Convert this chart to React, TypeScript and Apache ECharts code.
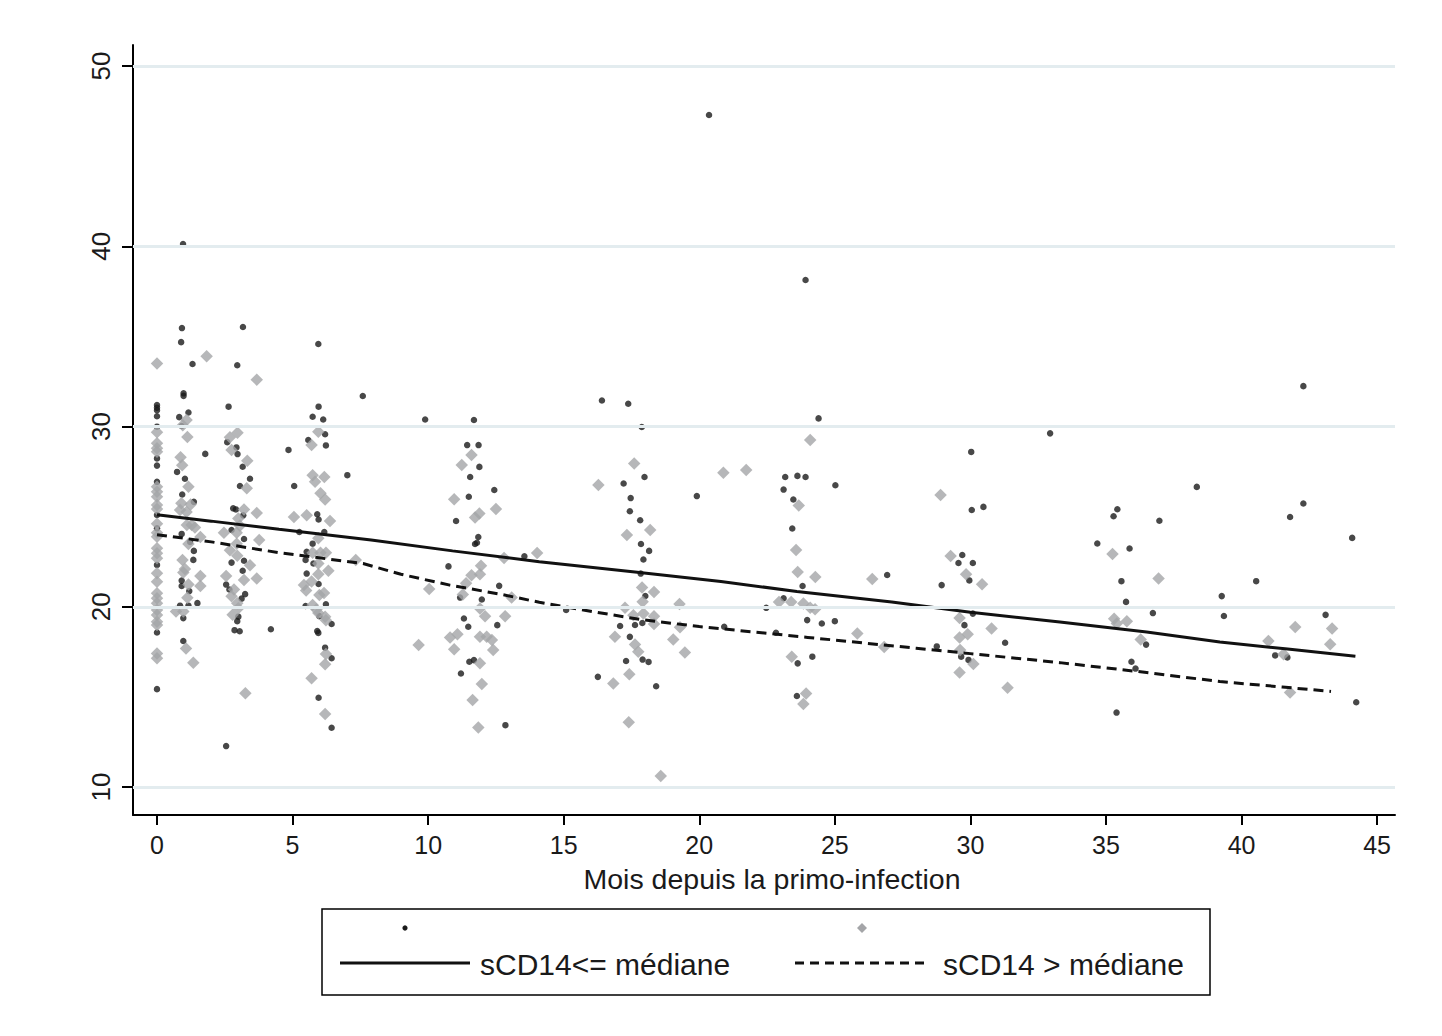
import React, { useEffect, useRef } from "react";
import * as echarts from "echarts";

const xTicks = [0, 5, 10, 15, 20, 25, 30, 35, 40, 45];
const yTicks = [10, 20, 30, 40, 50];
const xTitle = "Mois depuis la primo-infection";
const legendLabels = ["sCD14<= médiane", "sCD14 > médiane"];

// sCD14 <= médiane (black dots): [mois, valeur]
const lowPoints: [number, number][] = [
  [0, 31.19], [0, 31.04], [0, 30.9], [0, 30.57], [0, 29.99], [0, 28.23], [0, 27.83], [0, 26.93], [0, 25.09], [0, 24.35], [0, 22.32], [0, 18.57], [0, 15.43],
  [0.96, 40.12], [0.92, 35.46], [0.89, 34.68], [1.31, 33.47], [0.98, 31.84], [0.98, 31.7], [1.16, 30.78], [0.82, 30.52], [0.91, 30.03], [1.78, 28.48], [0.74, 27.48], [1.03, 27.1], [0.93, 26.23], [1.36, 25.82], [0.91, 24.04], [1.22, 23.6], [1.36, 23.1], [1.34, 22.6], [0.91, 21.45], [0.91, 21.15], [1.19, 20.87], [1.49, 20.2], [0.85, 20.06], [1.16, 20.06], [0.97, 19.37], [0.97, 18.1],
  [3.17, 35.52], [2.96, 33.4], [2.64, 31.1], [2.59, 29.13], [2.93, 28.84], [2.97, 28.47], [3.16, 27.77], [3.43, 27.1], [3.06, 26.7], [2.81, 25.46], [2.91, 25.4], [3.18, 25.07], [2.75, 24.26], [3.21, 23.76], [2.75, 22.45], [3.21, 22.55], [3.16, 22.0], [2.55, 21.23], [2.67, 20.96], [3.25, 20.7], [3.12, 20.45], [3.0, 19.45], [2.96, 19.2], [2.86, 18.7], [3.05, 18.64], [4.2, 18.75], [2.55, 12.27], [4.85, 28.7], [5.06, 26.7],
  [5.95, 34.58], [7.59, 31.69], [5.96, 31.1], [5.74, 30.54], [6.13, 30.39], [6.2, 29.57], [5.58, 29.25], [6.23, 28.95], [7.02, 27.3], [5.91, 25.13], [5.96, 24.84], [5.25, 24.15], [6.17, 24.15], [5.74, 23.5], [5.52, 23.05], [5.77, 22.4], [5.48, 22.6], [5.52, 21.84], [5.96, 21.26], [6.23, 20.14], [5.48, 20.04], [5.99, 19.48], [6.44, 19.04], [5.91, 18.65], [5.95, 18.55], [6.2, 17.73], [6.44, 17.14], [5.96, 14.95], [6.44, 13.29],
  [9.89, 30.39], [11.69, 30.36], [11.44, 28.97], [11.86, 28.97], [11.89, 27.76], [11.55, 27.2], [12.44, 26.48], [11.5, 26.1], [11.03, 24.76], [11.85, 23.87], [11.73, 23.48], [11.8, 23.55], [13.55, 22.8], [10.75, 22.24], [12.62, 21.16], [11.18, 20.51], [11.98, 20.4], [11.32, 19.35], [11.48, 18.89], [12.55, 18.98], [11.52, 16.95], [11.69, 17.04], [11.21, 16.3], [12.85, 13.43], [15.09, 19.82],
  [16.41, 31.44], [17.38, 31.26], [17.88, 29.97], [17.98, 27.2], [17.21, 26.84], [19.91, 26.14], [17.47, 26.03], [17.44, 25.3], [17.82, 24.8], [17.85, 23.48], [18.15, 23.1], [17.94, 22.62], [17.84, 21.84], [18.01, 20.6], [17.63, 18.99], [17.08, 18.93], [17.9, 19.1], [17.44, 18.33], [17.3, 16.99], [17.91, 17.07], [18.13, 16.94], [16.26, 16.11], [18.41, 15.59], [20.36, 47.28],
  [23.92, 38.13], [24.4, 30.45], [23.17, 27.2], [23.62, 27.26], [23.92, 27.2], [23.11, 26.5], [25.02, 26.74], [23.47, 25.95], [23.43, 24.34], [23.81, 21.15], [23.11, 20.47], [22.47, 19.94], [23.98, 19.26], [24.52, 19.07], [25.0, 19.2], [20.92, 18.89], [22.83, 18.56], [23.63, 16.86], [24.17, 17.23], [23.6, 15.05], [26.93, 21.76],
  [32.94, 29.62], [30.03, 28.59], [30.05, 25.37], [30.48, 25.54], [29.7, 22.87], [29.56, 22.43], [30.09, 22.43], [29.96, 21.46], [28.94, 21.2], [30.09, 19.62], [29.78, 18.98], [28.76, 17.8], [31.28, 18.0], [29.66, 17.23], [29.93, 17.05],
  [42.28, 32.24], [38.35, 26.65], [35.42, 25.41], [35.28, 25.02], [36.97, 24.77], [42.28, 25.73], [41.79, 24.98], [34.68, 23.51], [35.87, 23.23], [44.08, 23.82], [35.57, 21.42], [40.54, 21.42], [35.74, 20.27], [39.27, 20.59], [36.73, 19.65], [39.35, 19.49], [43.1, 19.55], [36.48, 17.9], [41.24, 17.3], [41.69, 17.19], [35.94, 16.95], [36.09, 16.57], [35.39, 14.13], [44.23, 14.7],
];

// sCD14 > médiane (grey diamonds): [mois, valeur]
const highPoints: [number, number][] = [
  [0, 33.5], [0, 29.68], [0, 29.07], [0, 28.79], [0, 28.6], [0, 26.66], [0, 26.38], [0, 26.1], [0, 25.64], [0, 25.42], [0, 24.6], [0, 24.1], [0, 23.89], [0, 23.24], [0, 22.97], [0, 22.69], [0, 21.86], [0, 21.39], [0, 20.75], [0, 20.47], [0, 20.19], [0, 19.82], [0, 19.54], [0, 19.17], [0, 18.99], [0, 17.4], [0, 17.15],
  [1.83, 33.9], [1.09, 30.36], [0.95, 30.07], [1.12, 29.42], [0.87, 28.3], [0.93, 27.85], [1.16, 26.66], [0.9, 25.74], [0.85, 25.37], [1.24, 25.67], [1.09, 25.26], [1.1, 24.54], [1.28, 24.54], [1.4, 24.4], [1.6, 23.87], [1.16, 23.48], [0.94, 22.6], [1.03, 22.1], [0.97, 21.9], [1.6, 21.7], [1.6, 21.15], [1.16, 21.23], [1.12, 20.5], [0.7, 19.74], [0.97, 19.74], [1.07, 17.68], [1.34, 16.9],
  [3.68, 32.6], [2.97, 29.65], [2.69, 29.4], [2.75, 28.7], [3.33, 28.1], [3.31, 26.57], [3.21, 25.4], [3.68, 25.2], [3.0, 24.9], [3.06, 24.5], [2.47, 24.1], [2.94, 24.1], [3.77, 23.7], [2.94, 23.5], [2.69, 23.14], [2.96, 22.83], [3.43, 22.3], [2.55, 21.7], [3.21, 21.48], [3.68, 21.57], [2.84, 20.96], [2.75, 20.58], [2.96, 20.2], [3.0, 19.92], [2.79, 19.55], [3.26, 15.2],
  [5.95, 29.71], [5.7, 28.97], [5.74, 27.3], [6.17, 27.2], [5.83, 26.94], [6.03, 26.3], [6.2, 25.95], [5.05, 24.98], [5.52, 25.08], [6.38, 24.76], [5.95, 23.8], [5.74, 23.0], [6.03, 23.0], [6.23, 23.0], [7.33, 22.6], [5.95, 22.4], [5.95, 21.8], [6.32, 22.0], [5.7, 21.4], [5.42, 21.2], [5.5, 20.9], [5.99, 20.65], [6.16, 20.77], [5.74, 20.1], [5.88, 19.85], [5.95, 19.66], [6.2, 19.44], [6.23, 19.25], [6.23, 17.38], [6.2, 16.81], [5.7, 16.03], [6.2, 14.05],
  [11.6, 28.42], [11.24, 27.86], [10.96, 25.97], [12.5, 25.43], [11.89, 25.17], [11.73, 24.95], [12.8, 22.71], [14.02, 22.98], [11.95, 22.27], [11.6, 21.75], [11.91, 21.8], [11.4, 21.3], [10.04, 20.98], [11.28, 20.68], [13.08, 20.51], [11.91, 19.91], [12.1, 19.48], [12.84, 19.48], [10.81, 18.29], [11.08, 18.48], [11.91, 18.33], [12.16, 18.33], [12.35, 18.15], [12.4, 17.6], [9.65, 17.88], [10.96, 17.64], [11.91, 16.86], [11.98, 15.71], [11.64, 14.83], [11.85, 13.3],
  [17.6, 27.95], [16.28, 26.75], [18.19, 24.26], [17.33, 23.98], [17.89, 21.07], [18.33, 20.82], [17.91, 20.28], [19.27, 20.15], [17.26, 19.94], [17.57, 19.53], [17.94, 19.62], [18.33, 19.48], [18.33, 19.04], [19.29, 18.86], [16.89, 18.33], [19.04, 18.18], [17.63, 17.9], [17.75, 17.5], [19.47, 17.46], [17.42, 16.26], [16.83, 15.74], [17.4, 13.59], [18.58, 10.61], [20.89, 27.43], [21.73, 27.58],
  [24.09, 29.25], [23.67, 25.62], [23.57, 23.15], [23.63, 21.93], [24.28, 21.65], [22.94, 20.27], [23.39, 20.27], [23.84, 20.18], [24.09, 19.94], [24.27, 19.86], [25.83, 18.52], [23.41, 17.23], [23.94, 15.19], [23.84, 14.6], [26.38, 21.54], [26.82, 17.77],
  [28.9, 26.2], [29.27, 22.82], [29.84, 21.8], [30.43, 21.25], [29.6, 19.38], [29.9, 18.48], [29.6, 18.3], [30.78, 18.79], [29.62, 17.6], [30.11, 16.82], [29.6, 16.35], [31.37, 15.5],
  [35.24, 22.93], [36.94, 21.57], [35.3, 19.33], [35.4, 19.07], [35.77, 19.2], [41.98, 18.88], [43.34, 18.8], [36.28, 18.18], [40.99, 18.1], [43.27, 17.92], [41.55, 17.37], [41.79, 15.24],
];

// fitted curves
const lowFitX = [0, 2, 4.5, 7.9, 10.9, 14.1, 17.8, 20.8, 23.6, 27.1, 30, 33.3, 36.5, 39.2, 41.7, 44.2];
const lowFitY = [25.1, 24.75, 24.3, 23.7, 23.1, 22.5, 21.9, 21.4, 20.85, 20.27, 19.7, 19.15, 18.6, 18.05, 17.65, 17.25];
const highFitX = [0, 2, 4.5, 7.6, 9, 10.8, 12.65, 14.1, 15.6, 17.8, 20, 22, 24, 26, 28, 30, 33.3, 36.5, 39.2, 41.5, 43.3];
const highFitY = [24.0, 23.6, 23.0, 22.4, 21.8, 21.2, 20.7, 20.25, 19.85, 19.3, 18.9, 18.6, 18.3, 18.0, 17.7, 17.4, 16.9, 16.35, 15.85, 15.55, 15.3];

const FONT = "'Liberation Sans', Arial, Helvetica, sans-serif";
const TEXT_COLOR = "#1a1a1a";
const DOT_COLOR = "#1a1a1a";
const DIAMOND_COLOR = "#a4a5a8";
const GRID_COLOR = "#e3ecef";

export default function App() {
  const ref = useRef<HTMLDivElement>(null);

  useEffect(() => {
    document.body.style.margin = "0";
    const chart = echarts.init(ref.current as HTMLDivElement, null, { renderer: "svg" });

    const lowFit = lowFitX.map((x, i) => [x, lowFitY[i]]);
    const highFit = highFitX.map((x, i) => [x, highFitY[i]]);

    const option: any = {
      animation: false,
      backgroundColor: "#ffffff",
      grid: { left: 133, top: 45, width: 1262, height: 770, outerBoundsMode: "none" },
      xAxis: {
        type: "value",
        min: -0.885,
        max: 45.66,
        axisLine: { show: true, onZero: false, lineStyle: { color: "#000", width: 2 } },
        axisTick: { show: true, length: 10, customValues: xTicks, lineStyle: { color: "#000", width: 2 } },
        axisLabel: { customValues: xTicks, margin: 17, fontSize: 25, color: TEXT_COLOR, fontFamily: FONT },
        splitLine: { show: false },
      },
      yAxis: {
        type: "value",
        min: 8.447,
        max: 51.165,
        axisLine: { show: true, onZero: false, lineStyle: { color: "#000", width: 2 } },
        axisTick: { show: true, length: 11, customValues: yTicks, lineStyle: { color: "#000", width: 2 } },
        axisLabel: { customValues: yTicks, rotate: 90, margin: 19, fontSize: 26, color: TEXT_COLOR, fontFamily: FONT },
        splitLine: { show: false },
      },
      series: [
        {
          type: "line",
          data: [[-5, -5]],
          showSymbol: false,
          silent: true,
          markLine: {
            silent: true,
            symbol: ["none", "none"],
            label: { show: false },
            lineStyle: { color: GRID_COLOR, width: 3, type: "solid" },
            emphasis: { disabled: true },
            data: yTicks.map((v) => ({ yAxis: v })),
          },
        },
        {
          type: "scatter",
          data: lowPoints,
          symbol: "circle",
          symbolSize: 6.5,
          itemStyle: { color: DOT_COLOR },
          emphasis: { disabled: true },
        },
        {
          type: "scatter",
          data: highPoints,
          symbol: "diamond",
          symbolSize: 12.5,
          itemStyle: { color: DIAMOND_COLOR },
          emphasis: { disabled: true },
        },
        {
          type: "line",
          data: lowFit,
          showSymbol: false,
          lineStyle: { color: "#111", width: 3 },
          emphasis: { disabled: true },
        },
        {
          type: "line",
          data: highFit,
          showSymbol: false,
          lineStyle: { color: "#111", width: 3, type: [10, 6] },
          emphasis: { disabled: true },
        },
      ],
      graphic: [
        {
          type: "text",
          x: 772,
          y: 879,
          style: { text: xTitle, fontSize: 28.5, fontFamily: FONT, fill: TEXT_COLOR, align: "center", verticalAlign: "middle", textAlign: "center", textVerticalAlign: "middle" },
        },
        {
          type: "rect",
          shape: { x: 322, y: 909, width: 888, height: 86 },
          style: { fill: "none", stroke: "#000", lineWidth: 1.5 },
        },
        {
          type: "circle",
          shape: { cx: 405, cy: 928, r: 2.6 },
          style: { fill: DOT_COLOR },
        },
        {
          type: "polygon",
          shape: { points: [[862, 923], [867, 928], [862, 933], [857, 928]] },
          style: { fill: DIAMOND_COLOR },
        },
        {
          type: "line",
          shape: { x1: 340, y1: 963, x2: 470, y2: 963 },
          style: { stroke: "#111", lineWidth: 3 },
        },
        {
          type: "line",
          shape: { x1: 795, y1: 963, x2: 925, y2: 963 },
          style: { stroke: "#111", lineWidth: 3, lineDash: [9, 6] },
        },
        {
          type: "text",
          x: 480,
          y: 964,
          style: { text: legendLabels[0], fontSize: 30, fontFamily: FONT, fill: TEXT_COLOR, align: "left", verticalAlign: "middle", textAlign: "left", textVerticalAlign: "middle" },
        },
        {
          type: "text",
          x: 943,
          y: 964,
          style: { text: legendLabels[1], fontSize: 30, fontFamily: FONT, fill: TEXT_COLOR, align: "left", verticalAlign: "middle", textAlign: "left", textVerticalAlign: "middle" },
        },
      ],
    };

    chart.setOption(option);
    return () => {
      chart.dispose();
    };
  }, []);

  return <div ref={ref} style={{ position: "absolute", left: 0, top: 0, width: 1442, height: 1036 }} />;
}
